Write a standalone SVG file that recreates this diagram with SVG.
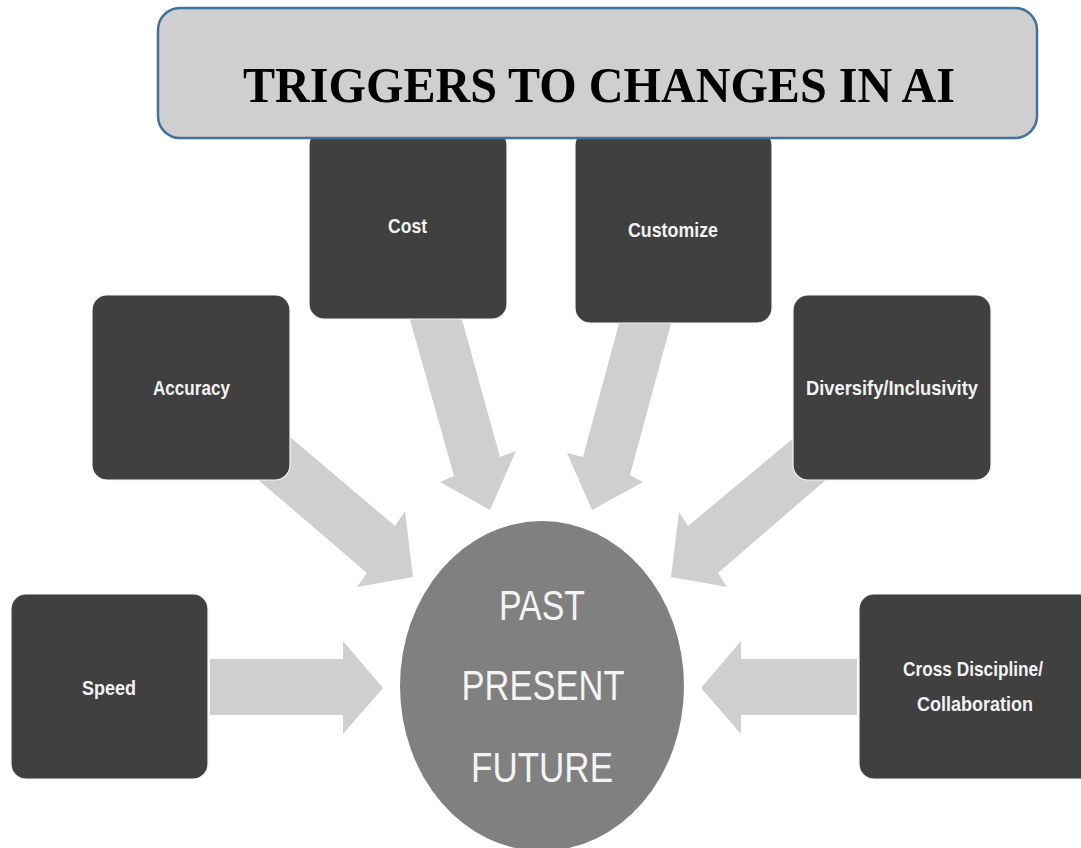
<svg xmlns="http://www.w3.org/2000/svg" width="1081" height="848" viewBox="0 0 1081 848">
<style>
.arrow{fill:#d0cfd0;stroke:none}
.box{fill:#404040;stroke:#f4f4f4;stroke-width:1.2}
.lbl{font-family:"Liberation Sans",Arial,sans-serif;font-weight:bold;font-size:21px;fill:#f2f2f2;text-anchor:middle}
.core{font-family:"Liberation Sans",Arial,sans-serif;font-size:43px;fill:#f4f4f4;text-anchor:middle}
.title{font-family:"Liberation Serif","Times New Roman",serif;font-weight:bold;font-size:51px;fill:#000;text-anchor:middle}
</style>
<rect width="1081" height="848" fill="#ffffff"/>
<g id="connectors">
<polygon class="arrow" points="210,659 343,659 343,641 383,688 343,734 343,715 210,715"/>
<polygon class="arrow" points="857,659 741,659 741,641 701,688 741,734 741,715 857,715"/>
<polygon class="arrow" points="251,404 395,526 405,511 413,577 357,587 367,573 220,447"/>
<polygon class="arrow" points="832,406 688,526 679,512 671,577 727,587 718,573 864,447"/>
<polygon class="arrow" points="409,316 461,316 500,457 516,451 490,510 440,482 454,476"/>
<polygon class="arrow" points="621,316 673,316 630,475 643,482 592,510 567,453 583,457"/>
</g>
<g id="node-core">
<ellipse cx="542" cy="686" rx="142" ry="165" fill="#808080"/>
<text class="core" x="542" y="620" textLength="86" lengthAdjust="spacingAndGlyphs">PAST</text>
<text class="core" x="543" y="700" textLength="163" lengthAdjust="spacingAndGlyphs">PRESENT</text>
<text class="core" x="542" y="782" textLength="142" lengthAdjust="spacingAndGlyphs">FUTURE</text>
</g>
<g id="node-speed">
<rect class="box" x="11" y="594" width="197" height="185" rx="15"/>
<text class="lbl" x="109" y="695" textLength="54" lengthAdjust="spacingAndGlyphs">Speed</text>
</g>
<g id="node-accuracy">
<rect class="box" x="92" y="295" width="198" height="185" rx="15"/>
<text class="lbl" x="191.5" y="395" textLength="77" lengthAdjust="spacingAndGlyphs">Accuracy</text>
</g>
<g id="node-cost">
<rect class="box" x="309" y="130" width="198" height="189" rx="15"/>
<text class="lbl" x="407.5" y="233" textLength="39" lengthAdjust="spacingAndGlyphs">Cost</text>
</g>
<g id="node-customize">
<rect class="box" x="575" y="130" width="197" height="193" rx="15"/>
<text class="lbl" x="673" y="237" textLength="90" lengthAdjust="spacingAndGlyphs">Customize</text>
</g>
<g id="node-diversify">
<rect class="box" x="793" y="295" width="198" height="185" rx="15"/>
<text class="lbl" x="892" y="395" textLength="172" lengthAdjust="spacingAndGlyphs">Diversify/Inclusivity</text>
</g>
<g id="node-cross">
<rect class="box" x="859" y="594" width="240" height="185" rx="15"/>
<text class="lbl" x="973" y="676" textLength="140" lengthAdjust="spacingAndGlyphs">Cross Discipline/</text>
<text class="lbl" x="975" y="711" textLength="116" lengthAdjust="spacingAndGlyphs">Collaboration</text>
</g>
<g id="node-title">
<rect x="158" y="8" width="879" height="130" rx="22" fill="#d0cfd0" stroke="#41719c" stroke-width="2.5"/>
<text class="title" x="599" y="102" textLength="712" lengthAdjust="spacingAndGlyphs">TRIGGERS TO CHANGES IN AI</text>
</g>
</svg>
